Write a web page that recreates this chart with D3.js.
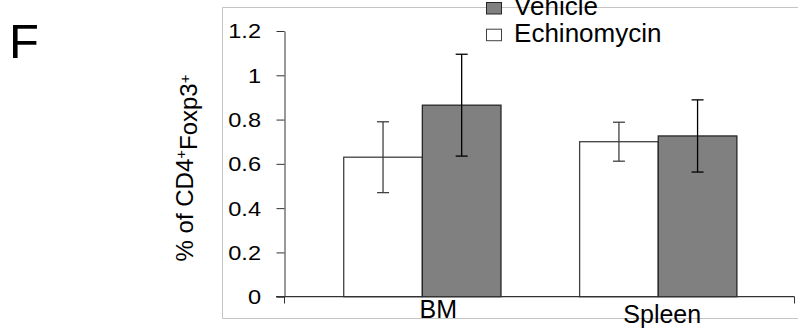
<!DOCTYPE html>
<html>
<head>
<meta charset="utf-8">
<script src="https://cdn.jsdelivr.net/npm/d3@7"></script>
<style>
  body { margin: 0; background: #fff; }
  text { font-family: "Liberation Sans", Arial, sans-serif; fill: #000; }
</style>
</head>
<body>
<div id="chart"></div>
<script>
// data
const categories = ["BM", "Spleen"]
const seriesNames = ["Echinomycin", "Vehicle"]
const echinomycin = [0.63, 0.70]
const echinomycinErr = [0.16, 0.088]
const vehicle = [0.865, 0.726]
const vehicleErr = [0.23, 0.163]
const yTicks = [0, 0.2, 0.4, 0.6, 0.8, 1, 1.2]
const yTickLabels = ["0", "0.2", "0.4", "0.6", "0.8", "1", "1.2"]

const width = 798
const height = 332

const fills = {Echinomycin: "#ffffff", Vehicle: "#808080"}
const strokes = {Echinomycin: "#404040", Vehicle: "#262626"}
const errColors = {Echinomycin: "#404040", Vehicle: "#000000"}

const svg = d3.select("#chart")
  .append("svg")
    .attr("width", width)
    .attr("height", height)

// panel frame (light grey, open on the right)
svg.append("path")
  .attr("d", "M798,7.5 H222.5 V318.5 H798")
  .attr("fill", "none")
  .attr("stroke", "#c4c4c4")
  .attr("stroke-width", 1)

// panel letter
svg.append("text")
  .attr("x", 9)
  .attr("y", 58)
  .style("font-size", "49px")
  .text("F")

const yScale = d3.scaleLinear().domain([0, 1.2]).range([296.7, 31])
const xScale = d3.scaleBand().domain(categories).range([304.4, 776.2]).padding(0)
const inner = d3.scaleBand().domain(seriesNames).range([0, xScale.bandwidth()]).paddingInner(0).paddingOuter(0.5)

const axisColor = "#333"

// y axis
const yAxis = svg.append("g")
  .attr("transform", "translate(284.5,0)")
  .call(d3.axisLeft(yScale).tickValues(yTicks).tickSize(8).tickSizeOuter(0).tickFormat(""))
yAxis.select(".domain").attr("stroke", axisColor)
yAxis.selectAll(".tick line").attr("stroke", axisColor)

// extend y axis a bit below zero (crossing tick)
svg.append("line")
  .attr("x1", 284.5).attr("x2", 284.5)
  .attr("y1", yScale(0)).attr("y2", 303.5)
  .attr("stroke", axisColor)

// tick labels, stretched horizontally like the original
svg.append("g")
  .selectAll("text")
  .data(yTicks)
  .join("text")
    .attr("transform", d => `translate(261,${yScale(d)}) scale(1.15,1)`)
    .attr("text-anchor", "end")
    .attr("dy", "0.36em")
    .style("font-size", "20.5px")
    .text((d, i) => yTickLabels[i])

// bars
const groups = svg.append("g")
  .selectAll("g")
  .data(categories)
  .join("g")
    .attr("transform", d => `translate(${xScale(d)},0)`)

const rows = (c, i) => [
  {name: "Echinomycin", value: echinomycin[i], err: echinomycinErr[i]},
  {name: "Vehicle", value: vehicle[i], err: vehicleErr[i]}
]

groups.selectAll("rect")
  .data(rows)
  .join("rect")
    .attr("x", d => inner(d.name))
    .attr("y", d => yScale(d.value))
    .attr("width", inner.bandwidth())
    .attr("height", d => yScale(0) - yScale(d.value))
    .attr("fill", d => fills[d.name])
    .attr("stroke", d => strokes[d.name])
    .attr("stroke-width", 1.3)

// error bars
const errs = groups.selectAll("g.err")
  .data(rows)
  .join("g")
    .attr("class", "err")
    .attr("stroke", d => errColors[d.name])
    .attr("stroke-width", 1.3)

errs.append("line")
  .attr("x1", d => inner(d.name) + inner.bandwidth() / 2)
  .attr("x2", d => inner(d.name) + inner.bandwidth() / 2)
  .attr("y1", d => yScale(d.value + d.err))
  .attr("y2", d => yScale(d.value - d.err))
errs.selectAll("line.cap")
  .data(d => [d.value + d.err, d.value - d.err].map(v => ({v, x: inner(d.name) + inner.bandwidth() / 2})))
  .join("line")
    .attr("class", "cap")
    .attr("x1", d => d.x - 6)
    .attr("x2", d => d.x + 6)
    .attr("y1", d => yScale(d.v))
    .attr("y2", d => yScale(d.v))

// x axis
svg.append("line")
  .attr("x1", 276).attr("x2", 794.5)
  .attr("y1", yScale(0)).attr("y2", yScale(0))
  .attr("stroke", axisColor)
  .attr("stroke-width", 1.2)
svg.append("line")
  .attr("x1", 794.5).attr("x2", 794.5)
  .attr("y1", yScale(0)).attr("y2", 303.5)
  .attr("stroke", axisColor)

// category labels (Excel placed them a little off-centre)
const labelDx = [16, 4]
const labelDy = [318.3, 323.3]
svg.append("g")
  .selectAll("text")
  .data(categories)
  .join("text")
    .attr("x", (d, i) => xScale(d) + xScale.bandwidth() / 2 + labelDx[i])
    .attr("y", (d, i) => labelDy[i])
    .attr("text-anchor", "middle")
    .style("font-size", "25px")
    .text(d => d)

// y label
const yLabel = svg.append("text")
  .attr("transform", "translate(193,168) rotate(-90)")
  .attr("text-anchor", "middle")
  .style("font-size", "24px")
yLabel.append("tspan").text("% of CD4")
yLabel.append("tspan").attr("dy", "-0.45em").style("font-size", "15px").text("+")
yLabel.append("tspan").attr("dy", "0.45em").text("Foxp3")
yLabel.append("tspan").attr("dy", "-0.45em").style("font-size", "15px").text("+")

// legend: Vehicle above, Echinomycin below
const legendNames = ["Vehicle", "Echinomycin"]
const legend = svg.append("g")
  .selectAll("g")
  .data(legendNames)
  .join("g")
    .attr("transform", (d, i) => `translate(486,${15 + i * 26.7})`)
legend.append("rect")
  .attr("x", 0.5)
  .attr("y", -12.5)
  .attr("width", 15)
  .attr("height", 11.5)
  .attr("fill", d => fills[d])
  .attr("stroke", d => strokes[d])
  .attr("stroke-width", 1)
legend.append("text")
  .attr("x", 27)
  .attr("y", 0)
  .attr("transform", "scale(1.04,1)")
  .style("font-size", "25px")
  .text(d => d)
</script>
</body>
</html>
